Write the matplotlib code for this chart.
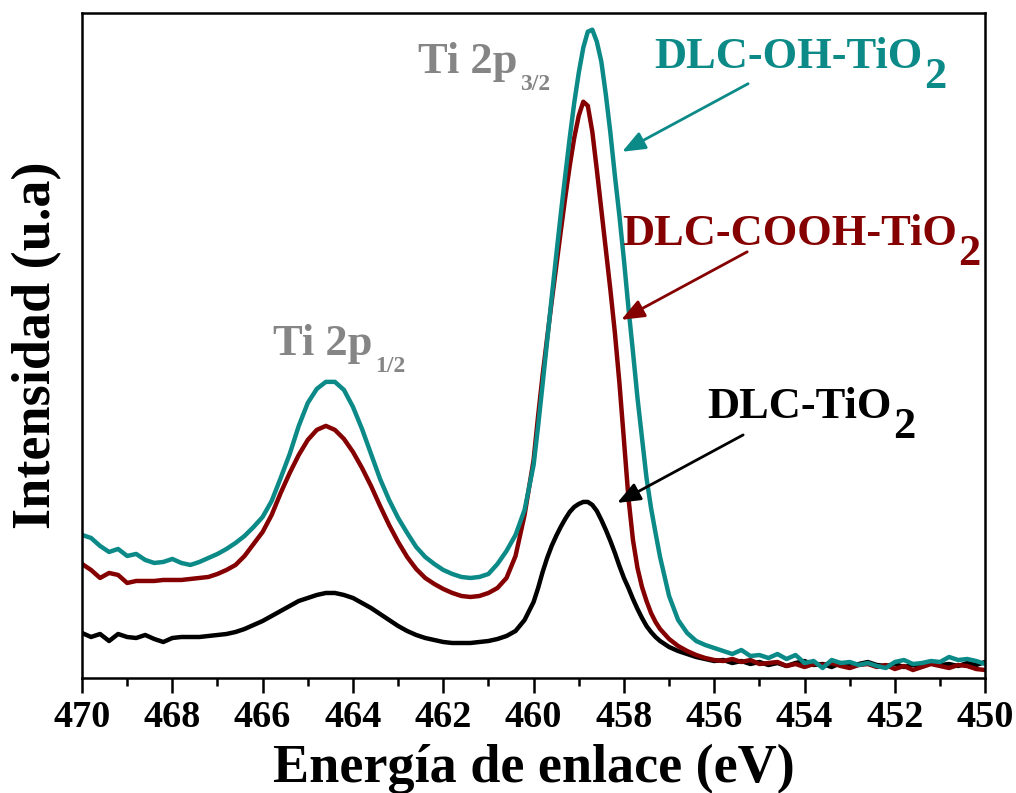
import matplotlib.pyplot as plt
from matplotlib.ticker import MultipleLocator

plt.rcParams['font.family'] = ['Liberation Serif', 'DejaVu Serif']
plt.rcParams['font.weight'] = 'bold'

# binding energy (eV); finer steps across the Ti 2p3/2 peak
energy = [470.0, 469.8, 469.6, 469.4, 469.2, 469.0, 468.8, 468.6, 468.4, 468.2,
          468.0, 467.8, 467.6,
          467.4, 467.2, 467.0, 466.8, 466.6, 466.4, 466.2, 466.0, 465.8, 465.6,
          465.4, 465.2, 465.0, 464.8, 464.6, 464.4, 464.2, 464.0, 463.8, 463.6,
          463.4, 463.2, 463.0, 462.8, 462.6, 462.4, 462.2, 462.0, 461.8, 461.6,
          461.4, 461.2, 461.0, 460.8, 460.6, 460.4, 460.2, 460.0,
          459.9, 459.8, 459.7, 459.6, 459.5, 459.4, 459.3, 459.2, 459.1, 459.0,
          458.9, 458.8, 458.7, 458.6, 458.5, 458.4, 458.3, 458.2, 458.1, 458.0,
          457.9, 457.8, 457.7, 457.6, 457.5, 457.4, 457.3, 457.2,
          457.0, 456.8, 456.6, 456.4, 456.2, 456.0,
          455.8, 455.6, 455.4, 455.2, 455.0, 454.8, 454.6, 454.4, 454.2, 454.0,
          453.8, 453.6, 453.4, 453.2, 453.0, 452.8, 452.6, 452.4, 452.2, 452.0,
          451.8, 451.6, 451.4, 451.2, 451.0, 450.8, 450.6, 450.4, 450.2, 450.0]

dlc_oh = [143, 140, 132, 126, 129, 122, 124, 118, 115, 116,
          119, 115, 113,
          116, 120, 124, 129, 135, 142, 151, 161, 177, 200,
          224, 252, 275, 289, 296, 296, 288, 271, 249, 224,
          199, 178, 160, 145, 131, 121, 114, 108, 104, 101,
          100, 101, 104, 114, 127, 143, 168, 213,
          252, 294, 337, 380, 422, 463, 502, 540, 575, 605,
          630, 646, 648, 636, 616, 583, 545, 502, 462, 418,
          370, 326, 280, 240, 200, 170, 145, 121,
          82, 58, 45, 37, 33, 30,
          27, 24, 28, 22, 23, 20, 24, 19, 23, 15,
          17, 10, 18, 15, 16, 13, 15, 12, 10, 16,
          18, 14, 15, 17, 16, 21, 18, 19, 17, 14]

dlc_cooh = [114, 108, 100, 105, 103, 95, 97, 97, 97, 98,
            98, 98, 99,
            100, 101, 104, 108, 113, 122, 134, 146, 163, 185,
            205, 223, 238, 248, 252, 248, 239, 226, 210, 192,
            172, 153, 136, 121, 109, 100, 94, 89, 85, 82,
            81, 82, 85, 90, 100, 122, 163, 218,
            262, 303, 340, 376, 411, 446, 480, 512, 540, 562,
            576, 572, 546, 508, 468, 428, 388, 345, 295, 238,
            180, 138, 110, 91, 77, 65, 56, 49,
            39, 32, 27, 23, 20, 18,
            17, 19, 16, 18, 14, 15, 16, 12, 14, 11,
            14, 13, 15, 12, 10, 13, 14, 11, 13, 9,
            12, 8, 11, 14, 12, 10, 13, 12, 9, 8]

dlc = [45, 41, 44, 37, 44, 41, 40, 43, 39, 36,
       40, 41, 41,
       41, 42, 43, 44, 46, 49, 53, 57, 62, 67,
       72, 77, 80, 83, 85, 85, 83, 80, 75, 70,
       64, 58, 52, 47, 43, 40, 38, 36, 35, 35,
       35, 36, 37, 39, 42, 47, 58, 76,
       90, 106, 120, 132, 142, 151, 159, 166, 171, 174,
       176, 176, 173, 167, 158, 148, 137, 125, 112, 100,
       90, 79, 69, 60, 52, 46, 41, 37,
       31, 27, 24, 21, 19, 17,
       18, 15, 17, 14, 16, 13, 15, 12, 15, 17,
       13, 14, 11, 15, 12, 14, 16, 13, 12, 14,
       11, 13, 12, 15, 13, 14, 12, 15, 13, 16]

teal = '#0b8a88'
wine = '#850000'
gray = '#858585'

fig = plt.figure(figsize=(10.16, 7.93), dpi=100)
ax = fig.add_axes([0.0807, 0.145, 0.889, 0.839])

ax.plot(energy, dlc, color='black', lw=3.2, solid_joinstyle='round')
ax.plot(energy, dlc_cooh, color=wine, lw=3.2, solid_joinstyle='round')
ax.plot(energy, dlc_oh, color=teal, lw=3.2, solid_joinstyle='round')

ax.set_xlim(470, 450)
ax.set_ylim(0, 665)
ax.xaxis.set_major_locator(MultipleLocator(2))
ax.xaxis.set_minor_locator(MultipleLocator(1))
ax.tick_params(axis='x', which='major', direction='out', length=10.8, width=1.8,
               labelsize=27.5, pad=5)
ax.tick_params(axis='x', which='minor', direction='out', length=5.8, width=1.8)
ax.set_yticks([])
for s in ax.spines.values():
    s.set_linewidth(1.8)

ax.set_xlabel('Energía de enlace (eV)', fontsize=39, fontweight='bold', labelpad=6)
ax.set_ylabel('Intensidad (u.a)', fontsize=39, fontweight='bold', labelpad=14)

# peak labels, subscript hung off the end of the main text
for pos, sub in [((465.77, 323), '1/2'), ((462.56, 605), '3/2')]:
    t = ax.text(pos[0], pos[1], 'Ti 2p', color=gray, fontsize=32, va='baseline')
    ax.annotate(sub, xy=(1, 0), xycoords=t, xytext=(2, -6), textcoords='offset points',
                color=gray, fontsize=17, va='baseline')

# sample labels with arrows
arrow = dict(arrowstyle='-|>,head_length=0.7,head_width=0.28', lw=2,
             mutation_scale=20, shrinkA=0, shrinkB=0)
labels = [
    ('DLC-OH-TiO', teal, (457.33, 610), (455.25, 594), (458.04, 526)),
    ('DLC-COOH-TiO', wine, (458.04, 433), (455.27, 426), (458.06, 358)),
    ('DLC-TiO', 'black', (456.16, 260), (455.36, 243), (458.15, 175)),
]
for name, c, pos, tail, tip in labels:
    t = ax.text(pos[0], pos[1], name, color=c, fontsize=32, va='baseline')
    ax.annotate('2', xy=(1, 0), xycoords=t, xytext=(1, -8), textcoords='offset points',
                color=c, fontsize=32, va='baseline')
    ax.annotate('', xy=tip, xytext=tail, arrowprops=dict(arrow, color=c))

fig.savefig('out.png', dpi=100)
